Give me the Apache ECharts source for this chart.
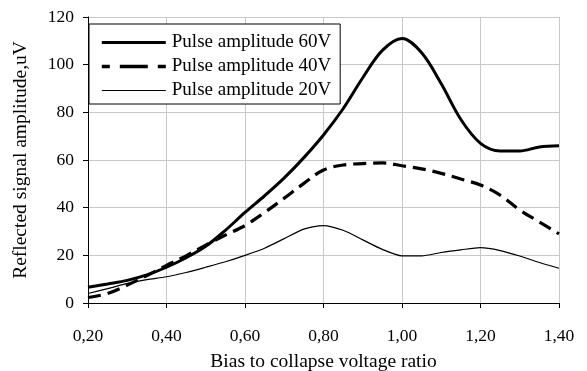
<!DOCTYPE html>
<html><head><meta charset="utf-8">
<script src="https://cdn.jsdelivr.net/npm/echarts@6/dist/echarts.min.js"></script>
<style>html,body{margin:0;padding:0;background:#fff}#c{width:587px;height:371px}</style>
</head><body><div id="c"></div>
<script>
const xValues = [0.20,0.25,0.30,0.35,0.40,0.45,0.50,0.55,0.60,0.65,0.70,0.75,0.80,0.85,0.90,0.95,1.00,1.05,1.10,1.15,1.20,1.25,1.30,1.35,1.40];
const amp60 = [6.6,8.0,9.5,11.8,15.0,19.0,23.8,30.5,38.0,45.0,52.5,61.0,70.5,81.5,94.5,106,111,105,92,77,67,63.8,63.8,65.5,66];
const amp40 = [2.3,4.0,7.5,11.5,15.8,19.8,24.3,28.5,32.5,38.0,44.0,50.2,55.8,57.9,58.5,58.8,57.6,56.3,54.4,52.0,49.5,45.3,39.0,34.0,29.0];
const amp20 = [4.0,6.0,8.2,9.8,11.0,12.8,15.0,17.3,20.0,23.0,27.0,31.0,32.5,30.5,26.5,22.5,19.8,19.8,21.2,22.3,23.2,22.0,19.7,17.0,14.6];
const seriesNames = ['Pulse amplitude 60V','Pulse amplitude 40V','Pulse amplitude 20V'];
const xTicks = {min:0.2, max:1.4, interval:0.2};
const yTicks = {min:0, max:120, interval:20};

const font = 'Liberation Serif';
const pair = (ys) => xValues.map((x,i)=>[x, ys[i]]);
const chart = echarts.init(document.getElementById('c'), null, {renderer:'canvas'});
chart.setOption({
  animation:false,
  backgroundColor:'#fff',
  grid:{left:88, right:28, top:17, bottom:68, containLabel:false, outerBoundsMode:'none'},
  legend:{
    orient:'vertical', left:89, top:24, itemWidth:64, itemHeight:14, itemGap:5,
    padding:[9,9,4,11],
    backgroundColor:'#fff', borderColor:'#000', borderWidth:1,
    itemStyle:{opacity:0},
    textStyle:{fontFamily:font, fontSize:19, color:'#000', padding:[0,0,0,1]},
    data:[
      {name:seriesNames[0], lineStyle:{color:'#000', width:3}, itemStyle:{opacity:0}},
      {name:seriesNames[1], lineStyle:{color:'#000', width:3.6, type:[8,10,20,0]}, itemStyle:{opacity:0}},
      {name:seriesNames[2], lineStyle:{color:'#000', width:1}, itemStyle:{opacity:0}}
    ]
  },
  xAxis:{
    type:'value', min:xTicks.min, max:xTicks.max, interval:xTicks.interval,
    name:'Bias to collapse voltage ratio', nameLocation:'middle', nameGap:49,
    nameTextStyle:{fontFamily:font, fontSize:19.5, color:'#000'},
    axisLine:{show:true, onZero:false, lineStyle:{color:'#000', width:1}},
    axisTick:{show:true, length:5, lineStyle:{color:'#000'}},
    axisLabel:{fontFamily:font, fontSize:17.5, color:'#000', margin:24,
      formatter:(v)=>v.toFixed(2).replace('.',',')},
    splitLine:{show:true, lineStyle:{color:'#c8c8c8', width:1}}
  },
  yAxis:{
    type:'value', min:yTicks.min, max:yTicks.max, interval:yTicks.interval,
    name:'Reflected signal amplitude,uV', nameLocation:'middle', nameGap:57,
    nameTextStyle:{fontFamily:font, fontSize:19.5, color:'#000'},
    axisLine:{show:true, lineStyle:{color:'#000', width:1}},
    axisTick:{show:true, length:5, lineStyle:{color:'#000'}},
    axisLabel:{fontFamily:font, fontSize:17.5, color:'#000', margin:14},
    splitLine:{show:true, lineStyle:{color:'#c8c8c8', width:1}}
  },
  series:[
    {name:seriesNames[0], type:'line', data:pair(amp60), smooth:0.35, symbol:'none',
     lineStyle:{color:'#000', width:3}, itemStyle:{color:'#000'}},
    {name:seriesNames[1], type:'line', data:pair(amp40), smooth:0.35, symbol:'none',
     lineStyle:{color:'#000', width:3.2, type:[13,7]}, itemStyle:{color:'#000'}},
    {name:seriesNames[2], type:'line', data:pair(amp20), smooth:0.25, symbol:'none',
     lineStyle:{color:'#000', width:1.2}, itemStyle:{color:'#000'}}
  ]
});
</script></body></html>
